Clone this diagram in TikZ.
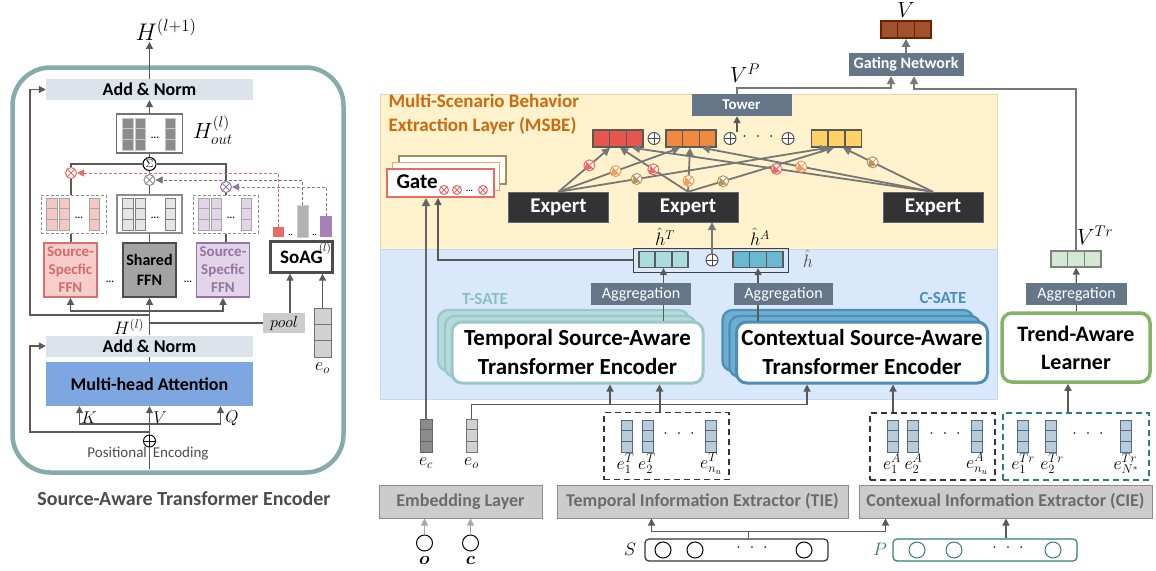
\RequirePackage{fix-cm}
\documentclass[tikz,border=0pt]{standalone}
\usepackage{fontspec}
\usepackage{amsmath}
\setmainfont{Carlito}
\usetikzlibrary{arrows.meta,calc,positioning}

% colours
\definecolor{frameteal}{HTML}{86ABAB}
\definecolor{linegray}{HTML}{595959}
\definecolor{darrow}{HTML}{777777}
\definecolor{normfill}{HTML}{DCE3EA}
\definecolor{attnblue}{HTML}{7EA6E0}
\definecolor{redtxt}{HTML}{D46A6A}
\definecolor{redfill}{HTML}{F8CECC}
\definecolor{reddraw}{HTML}{D9706E}
\definecolor{pinkcell}{HTML}{F4C7C3}
\definecolor{purtxt}{HTML}{9673A6}
\definecolor{purfill}{HTML}{E1D5E7}
\definecolor{purbar}{HTML}{A680B8}
\definecolor{sharedfill}{HTML}{A3A3A3}
\definecolor{msbefill}{HTML}{FFF2CC}
\definecolor{msbedraw}{HTML}{E6D8AC}
\definecolor{msbetxt}{HTML}{CC6A10}
\definecolor{satefill}{HTML}{DAE8FC}
\definecolor{satedraw}{HTML}{C6D7EE}
\definecolor{slate}{HTML}{647687}
\definecolor{expfill}{HTML}{333333}
\definecolor{expdraw}{HTML}{56697F}
\definecolor{vred}{HTML}{E5574C}
\definecolor{vorange}{HTML}{EF8A3E}
\definecolor{vyellow}{HTML}{FFD166}
\definecolor{vbrown}{HTML}{A0522D}
\definecolor{vbrowndraw}{HTML}{6B2000}
\definecolor{vlteal}{HTML}{AADCDE}
\definecolor{vblue}{HTML}{69B9D2}
\definecolor{vgreen}{HTML}{D5E8D4}
\definecolor{evec}{HTML}{B9CAD9}
\definecolor{evecdraw}{HTML}{4B6B87}
\definecolor{tsateline}{HTML}{9CC6C7}
\definecolor{tsateback}{HTML}{B4DBDC}
\definecolor{tsatetxt}{HTML}{8DBFC0}
\definecolor{csateline}{HTML}{4E8DB5}
\definecolor{csateback}{HTML}{6DAFD2}
\definecolor{csatetxt}{HTML}{4A8FC2}
\definecolor{talgreen}{HTML}{82B366}
\definecolor{extfill}{HTML}{CCCCCC}
\definecolor{extdraw}{HTML}{8C8C8C}
\definecolor{exttxt}{HTML}{6B6B6B}
\definecolor{trdash}{HTML}{2F7D7B}
\definecolor{otred}{HTML}{EA6B66}
\definecolor{otorange}{HTML}{F49A5A}
\definecolor{ottan}{HTML}{B8955A}
\definecolor{gatetan}{HTML}{A88A55}
\definecolor{gateorange}{HTML}{F2A066}

\tikzset{
  blk/.style={rectangle, inner sep=0pt, align=center},
  ln/.style={draw=linegray, line width=1.2pt},
  arr/.style={ln, -{Triangle[length=7pt,width=7pt]}},
  garr/.style={draw=darrow, line width=1.8pt, -{Triangle[length=8pt,width=8pt]}},
  mathlbl/.style={inner sep=1pt, font=\fontsize{18}{19}\selectfont},
  normbox/.style={blk, fill=normfill, minimum width=207pt, minimum height=21pt, font=\fontsize{18}{20}\selectfont\bfseries},
  ffnbox/.style={blk, line width=1.6pt, minimum width=53pt, minimum height=54pt, font=\fontsize{15}{18}\selectfont\bfseries},
  vecframe/.style={blk, draw=black!45, line width=1pt, minimum width=65pt, minimum height=38pt},
  slatebox/.style={blk, fill=slate, text=white, minimum height=22pt, font=\fontsize{16}{17}\selectfont},
  expertbox/.style={blk, fill=expfill, draw=expdraw, text=white, minimum width=100pt, minimum height=30pt, font=\fontsize{21}{24}\selectfont\bfseries},
  satelayer/.style={blk, rounded corners=10pt, minimum width=251pt, minimum height=61pt, line width=2.2pt},
  extbox/.style={blk, fill=extfill, draw=extdraw, line width=1pt, minimum height=33pt, text=exttxt, font=\fontsize{18}{20}\selectfont\bfseries},
  ebox/.style={blk, dash pattern=on 6pt off 4pt, line width=1.8pt, minimum width=125pt, minimum height=67pt},
  seqbox/.style={blk, rounded corners=4pt, line width=1.2pt, minimum height=22pt},
  seqdot/.style={circle, draw=#1, line width=1pt, minimum size=16pt, inner sep=0pt},
  oplus/.style={circle, draw=#1, fill=white, inner sep=0pt, minimum size=12pt, line width=0.9pt,
    path picture={\draw[#1, line width=0.9pt] (path picture bounding box.north) -- (path picture bounding box.south)
      (path picture bounding box.west) -- (path picture bounding box.east);}},
  otimes/.style={circle, draw=#1, fill=white, inner sep=0pt, minimum size=11pt, line width=1pt,
    path picture={\draw[#1, line width=0.9pt] (path picture bounding box.north west) -- (path picture bounding box.south east)
      (path picture bounding box.north east) -- (path picture bounding box.south west);}},
  % vector cells
  houtcells/.style={fill=black!45, draw=black!22, line width=0.8pt},
  pinkcells/.style={fill=pinkcell, draw=black!35, line width=0.8pt},
  greycells/.style={fill=black!10, draw=black!50, line width=0.8pt},
  purcells/.style={fill=purfill, draw=black!35, line width=0.8pt},
  eocells/.style={fill=black!18, draw=black!55, line width=1pt},
  eccells/.style={fill=black!45, draw=black!60, line width=1pt},
  ecells/.style={fill=evec, draw=evecdraw, line width=1pt},
  redvcells/.style={fill=vred, draw=black!65, line width=1.5pt},
  orgvcells/.style={fill=vorange, draw=black!65, line width=1.5pt},
  yelvcells/.style={fill=vyellow, draw=black!65, line width=1.5pt},
  browncells/.style={fill=vbrown, draw=vbrowndraw, line width=1.5pt},
  htcells/.style={fill=vlteal, draw=black!65, line width=1.3pt},
  hacells/.style={fill=vblue, draw=black!65, line width=1.3pt},
  greencells/.style={fill=vgreen, draw=black!50, line width=1.3pt},
}

% a row of three cells: name, centre, width, height, style
\newcommand{\cellrow}[5]{%
  \node[blk, minimum width=#3, minimum height=#4, #5] (#1) at (#2) {};
  \foreach \k in {1,2}
    \draw[#5] ($(#1.north west)!\k/3!(#1.north east)$) -- ($(#1.south west)!\k/3!(#1.south east)$);
}
% a column of three cells: name, centre, width, height, style
\newcommand{\cellcol}[5]{%
  \node[blk, minimum width=#3, minimum height=#4, #5] (#1) at (#2) {};
  \foreach \k in {1,2}
    \draw[#5] ($(#1.north west)!\k/3!(#1.south west)$) -- ($(#1.north east)!\k/3!(#1.south east)$);
}
% two columns, dots, one column: prefix, centre x, centre y, style
\newcommand{\vecgroup}[4]{%
  \cellcol{#1a}{#2-21.5,#3}{10.5pt}{32pt}{#4}
  \cellcol{#1b}{#2-9,#3}{10.5pt}{32pt}{#4}
  \cellcol{#1c}{#2+21,#3}{10.5pt}{32pt}{#4}
  \node[font=\fontsize{10}{10}\selectfont\bfseries, inner sep=0pt] (#1dots) at (#2+5.5,#3+4) {...};
}

\begin{document}
\begin{tikzpicture}[x=1pt, y=-1pt]
  \useasboundingbox (0,0) rectangle (1156,570);

  % --- Source-Aware Transformer Encoder ---
  \node[blk, draw=frameteal, line width=4.5pt, rounded corners=38pt, minimum width=331pt, minimum height=405pt] (encframe) at (178,270) {};
  \node[normbox] (normtop) at (149.5,89.5) {Add \& Norm};
  \node[mathlbl, font=\fontsize{24}{25}\selectfont] (hnext) at (166,30) {$H^{(l+1)}$};
  \draw[arr] (normtop) -- (normtop |- hnext.south);

  % output block and the weighted sum
  \node[blk, draw=black!55, line width=1.2pt, minimum width=66pt, minimum height=39pt] (hout) at (149.5,133.5) {};
  \vecgroup{ho}{149.5}{134}{houtcells}
  \node[mathlbl, anchor=west, font=\fontsize{22}{23}\selectfont] (houtlab) at (192,130) {$H^{(l)}_{out}$};
  \draw[arr] (hout) -- (normtop);
  \node[circle, draw=black, line width=1pt, inner sep=0pt, minimum size=13pt, font=\fontsize{11}{11}\selectfont] (sum) at (149.5,164) {$\Sigma$};
  \draw[ln] (sum) -- (hout);

  \node[otimes=otred] (gr) at (71,173) {};
  \node[otimes=black!45] (gg) at (149.5,180) {};
  \node[otimes=purtxt] (gp) at (226,187) {};
  \draw[ln] (gr.north) |- (sum.west);
  \draw[ln] (gp.north) |- (sum.east);
  \draw[ln] (gg) -- (sum);

  \node[vecframe, dash pattern=on 3pt off 2pt] (fr) at (73.5,214) {};
  \node[vecframe, line width=1.4pt] (fs) at (149.5,214) {};
  \node[vecframe, dash pattern=on 3pt off 2pt] (fp) at (225.5,214) {};
  \vecgroup{fr}{73.5}{214}{pinkcells}
  \vecgroup{fs}{149.5}{214}{greycells}
  \vecgroup{fp}{225.5}{214}{purcells}
  \draw[ln] (gr.south) -- (gr.south |- fr.north);
  \draw[ln] (gg) -- (fs);
  \draw[ln] (gp.south) -- (gp.south |- fp.north);

  % feed-forward experts
  \node[ffnbox, fill=redfill, draw=reddraw, text=redtxt] (ffnr) at (70.5,270) {Source-\\Specfic\\FFN};
  \node[ffnbox, fill=sharedfill, draw=black!70, font=\fontsize{16}{20}\selectfont\bfseries] (ffns) at (149.5,270) {Shared\\FFN};
  \node[ffnbox, fill=purfill, draw=purtxt, text=purtxt] (ffnp) at (223,270) {Source-\\Specfic\\FFN};
  \node[font=\fontsize{10}{10}\selectfont\bfseries] (fd1) at (110,282) {...};
  \node[font=\fontsize{10}{10}\selectfont\bfseries] (fd2) at (188,282) {...};
  \draw[ln] (fr.south -| gr) -- (ffnr.north -| gr);
  \draw[ln] (fs) -- (ffns);
  \draw[ln] (fp.south -| gp) -- (ffnp.north -| gp);

  % source-aware gate
  \node[blk, draw=black!70, fill=white, line width=2.4pt, minimum width=62pt, minimum height=31pt, font=\fontsize{19}{20}\selectfont\bfseries] (soag) at (301.5,257) {SoAG};
  \node[anchor=north east, inner sep=0pt, font=\fontsize{11}{11}\selectfont] (soagl) at ([xshift=-2.5pt,yshift=-2.5pt]soag.north east) {$(l)$};
  \node[blk, fill=otred, minimum width=11pt, minimum height=10pt] (barr) at (278.5,232) {};
  \node[blk, fill=black!30, draw=black!20, minimum width=11pt, minimum height=32pt] (barg) at (302.5,221) {};
  \node[blk, fill=purbar, minimum width=12pt, minimum height=21pt] (barp) at (326,226.5) {};
  \node[font=\fontsize{8}{8}\selectfont\bfseries, inner sep=0pt] (bd1) at (290.5,235) {..};
  \node[font=\fontsize{8}{8}\selectfont\bfseries, inner sep=0pt] (bd2) at (314.5,235) {..};
  \draw[draw=otred, line width=1pt, dash pattern=on 3pt off 2pt, -{Triangle[length=7pt,width=7pt]}] (barr) |- (gr);
  \draw[draw=black!55, line width=1pt, dash pattern=on 3pt off 2pt, -{Triangle[length=7pt,width=7pt]}] (barg) |- (gg);
  \draw[draw=purtxt, line width=1pt, dash pattern=on 3pt off 2pt, -{Triangle[length=7pt,width=7pt]}] (barp) |- (gp);

  \node[blk, fill=extfill, minimum width=42pt, minimum height=20pt, font=\fontsize{16}{18}\selectfont] (pool) at (284,323) {$pool$};
  \cellcol{eoenc}{322.5,332.5}{17pt}{49pt}{eocells}
  \node[mathlbl, below=4pt of eoenc] (eoenclab) {$e_o$};
  \draw[arr] ([xshift=6pt]pool.north) -- ([xshift=6pt]pool.north |- soag.south);
  \draw[arr] (eoenc) -- (eoenc |- soag.south);

  % attention block
  \node[normbox] (normbot) at (149.5,346) {Add \& Norm};
  \node[blk, fill=attnblue, minimum width=207pt, minimum height=44pt, font=\fontsize{18}{20}\selectfont\bfseries] (mha) at (149.5,384) {Multi-head Attention};
  \draw[ln] (mha) -- (normbot);
  \draw[arr] (normbot) -- (ffns);
  \coordinate (hsplit) at (149.5,311);
  \draw[arr] (hsplit) -| (ffnr);
  \draw[arr] (hsplit) -| (ffnp);
  \coordinate (hpool) at (149.5,323);
  \draw[ln] (hpool) -- (pool);
  \node[mathlbl] (hl) at (129,327) {$H^{(l)}$};

  % residual paths
  \coordinate (skiptop) at (149.5,315);
  \draw[arr] (skiptop) -- ++(-119.5,0) |- (normtop);
  \coordinate (skipbot) at (149.5,432);
  \draw[arr] (skipbot) -- ++(-119.5,0) |- (normbot);

  % K, V, Q inputs
  \node[oplus=black] (pe) at (149.5,441) {};
  \draw[arr] (pe) -- (mha);
  \coordinate (kvq) at (149.5,424);
  \draw[arr] (kvq) -| ([xshift=-70pt]mha.south);
  \draw[arr] (kvq) -| ([xshift=71pt]mha.south);
  \node[mathlbl, font=\fontsize{17}{18}\selectfont] (klab) at (89,418) {$K$};
  \node[mathlbl, font=\fontsize{17}{18}\selectfont] (vlabl) at (160,418) {$V$};
  \node[mathlbl, font=\fontsize{17}{18}\selectfont] (qlab) at (232,418) {$Q$};
  \coordinate (pein) at (149.5,469);
  \draw[ln] (pein) -- (pe);
  \node[text=black!70, font=\fontsize{15}{17}\selectfont] (petxt) at (148,454) {Positional\hspace{6pt}Encoding};
  \node[text=black!70, font=\fontsize{20}{22}\selectfont\bfseries] (enctitle) at (184,499) {Source-Aware Transformer Encoder};

  % --- Multi-Scenario Behavior Extraction ---
  \node[blk, fill=msbefill, draw=msbedraw, minimum width=617pt, minimum height=155pt] (msbe) at (688.5,171.5) {};
  \node[blk, fill=satefill, draw=satedraw, minimum width=617pt, minimum height=150pt] (satebg) at (688.5,324) {};
  \node[anchor=north west, align=left, text=msbetxt, font=\fontsize{19}{24}\selectfont\bfseries] (msbetitle) at (385,91) {Multi-Scenario Behavior\\Extraction Layer (MSBE)};

  % gates
  \node[blk, draw=gatetan, fill=white, line width=1.6pt, minimum width=107pt, minimum height=28pt] (gateb) at (452.5,170) {};
  \node[blk, draw=gateorange, fill=white, line width=1.6pt, minimum width=107pt, minimum height=28pt] (gatem) at (446,176.5) {};
  \node[blk, draw=otred, fill=white, line width=2pt, minimum width=107pt, minimum height=28pt] (gate) at (440,183) {};
  \node[anchor=west, font=\fontsize{21}{22}\selectfont\bfseries] (gatetxt) at (393,182) {Gate};
  \node[otimes=otred, minimum size=9pt] (gm1) at (444,190) {};
  \node[otimes=otred, minimum size=9pt] (gm2) at (457,190) {};
  \node[font=\fontsize{9}{9}\selectfont\bfseries, inner sep=0pt] (gmdots) at (469.5,191) {...};
  \node[otimes=otred, minimum size=9pt] (gm3) at (483,190) {};

  % experts and scenario outputs
  \node[expertbox] (exp1) at (558.5,207) {Expert};
  \node[expertbox] (exp2) at (688,207) {Expert};
  \node[expertbox] (exp3) at (933,207) {Expert};
  \cellrow{vred}{618,138.5}{50pt}{17pt}{redvcells}
  \node[oplus=black!70] (op1) at (654,138.5) {};
  \cellrow{vorg}{691,138.5}{50pt}{17pt}{orgvcells}
  \node[oplus=black!70] (op2) at (730,138.5) {};
  \node[font=\fontsize{16}{16}\selectfont] (opdots) at (758,137) {$\cdot$\hspace{9pt}$\cdot$\hspace{9pt}$\cdot$};
  \node[oplus=black!70] (op3) at (788,138.5) {};
  \cellrow{vyel}{836.5,138.5}{50pt}{17pt}{yelvcells}

  \foreach \src/\dst/\dx/\t/\col in {exp1/vred/-8/0.6/otred, exp1/vorg/-11/0.47/otorange, exp1/vyel/-8.5/0.29/ottan,
      exp2/vred/2/0.51/otred, exp2/vorg/-1/0.25/otorange, exp2/vyel/-2.5/0.24/ottan,
      exp3/vred/14/0.52/otred, exp3/vorg/11/0.57/otorange, exp3/vyel/6.5/0.67/ottan}
    \draw[garr] (\src.north) -- ([xshift=\dx]\dst.south) node[otimes=\col, pos=\t] (m\src\dst) {};

  % tower and gating network
  \node[slatebox, minimum width=100pt, font=\fontsize{15}{16}\selectfont\bfseries] (tower) at (741.5,105) {Tower};
  \coordinate (towerin) at ([xshift=-4.5pt]tower.south);
  \draw[arr] (op2.north -| towerin) -- (towerin);
  \node[mathlbl, font=\fontsize{22}{23}\selectfont] (vplab) at (745,73) {$V^P$};
  \node[slatebox, minimum width=115pt, minimum height=23pt, font=\fontsize{16}{17}\selectfont\bfseries] (gnet) at (906,64.5) {Gating Network};
  \coordinate (gin1) at ([xshift=-15pt]gnet.south);
  \coordinate (gin2) at ([xshift=8pt]gnet.south);
  \cellrow{vout}{906,29.5}{50pt}{17pt}{browncells}
  \node[mathlbl, font=\fontsize{22}{23}\selectfont] (vlab) at (906,10) {$V$};
  \draw[garr] (gnet) -- (vout);
  \draw[garr] (tower.north -| towerin) -- ++(0,-6) -| (gin1);

  % --- Source-aware encoders ---
  \node[blk, draw=black!75, line width=1pt, minimum width=155pt, minimum height=24pt] (hhat) at (710.5,260) {};
  \cellrow{vht}{663.5,259.5}{49pt}{16pt}{htcells}
  \node[oplus=black!70] (oph) at (712,260) {};
  \cellrow{vha}{758,259.5}{50pt}{16pt}{hacells}
  \node[mathlbl] (htlab) at (665,237) {$\hat{h}^T$};
  \node[mathlbl] (halab) at (760,237) {$\hat{h}^A$};
  \node[mathlbl, text=black!70] (hhlab) at (808,259) {$\hat{h}$};
  \draw[garr] (oph) -- (oph |- exp2.south);
  \coordinate (gatein1) at ([xshift=-14pt]gate.south);
  \coordinate (gatein2) at ([xshift=-2pt]gate.south);
  \draw[arr] (hhat.west) -| (gatein2);

  \node[slatebox, minimum width=100pt] (aggt) at (641,294) {Aggregation};
  \node[slatebox, minimum width=99pt] (agga) at (783.5,294) {Aggregation};
  \draw[arr] (aggt.north -| vht) -- (vht);
  \draw[arr] (agga.north -| vha) -- (vha);

  \node[satelayer, fill=tsateback, draw=tsateline] (tsate2) at (563.5,340.5) {};
  \node[satelayer, fill=tsateback, draw=tsateline] (tsate1) at (570.5,346.5) {};
  \node[satelayer, fill=white, draw=tsateline, line width=3pt, font=\fontsize{23}{29}\selectfont\bfseries] (tsate) at (577.5,352.5) {Temporal Source-Aware\\Transformer Encoder};
  \node[satelayer, fill=csateback, draw=csateline] (csate2) at (848,340.5) {};
  \node[satelayer, fill=csateback, draw=csateline] (csate1) at (855,346.5) {};
  \node[satelayer, fill=white, draw=csateline, line width=3pt, font=\fontsize{23}{29}\selectfont\bfseries] (csate) at (862,352.5) {Contextual Source-Aware\\Transformer Encoder};
  \node[text=tsatetxt, font=\fontsize{17}{18}\selectfont\bfseries] (tsatelab) at (485,299) {T-SATE};
  \node[text=csatetxt, font=\fontsize{17}{18}\selectfont\bfseries] (csatelab) at (943,298) {C-SATE};
  \draw[ln] (tsate.north -| vht) -- (aggt.south -| vht);
  \draw[ln] (csate.north -| vha) -- (agga.south -| vha);

  % --- Trend-aware branch ---
  \node[blk, fill=white, draw=talgreen, line width=3.5pt, rounded corners=10pt, minimum width=148pt, minimum height=69pt, font=\fontsize{22}{28}\selectfont\bfseries] (tal) at (1076,347.5) {Trend-Aware\\Learner};
  \node[slatebox, minimum width=101pt] (aggtr) at (1076.5,294) {Aggregation};
  \cellrow{vtr}{1076,259}{50pt}{16pt}{greencells}
  \node[mathlbl, anchor=west, font=\fontsize{22}{23}\selectfont] (vtrlab) at (1076,235) {$V^{Tr}$};
  \draw[ln] (tal) -- (aggtr);
  \draw[arr] (aggtr) -- (vtr);
  \draw[garr] (vtr.north) |- ([yshift=-13pt]gin2) -- (gin2);

  % --- Embeddings ---
  \cellcol{ec}{426,435.5}{12pt}{33pt}{eccells}
  \cellcol{eo}{471.5,435.5}{11pt}{33pt}{eocells}
  \node[mathlbl, below=4pt of ec] (eclab) {$e_c$};
  \node[mathlbl, below=4pt of eo] (eolab) {$e_o$};
  \draw[garr, draw=black!60] (ec) -- (gatein1);

  \coordinate (tsin) at ([xshift=32.5pt]tsate.south);
  \coordinate (tsin2) at ([xshift=82pt]tsate.south);
  \coordinate (csin) at ([xshift=-55pt]csate.south);
  \coordinate (csin2) at ([xshift=31pt]csate.south);
  \coordinate (talin) at ([xshift=-8pt]tal.south);
  \draw[arr] (eo) |- ([yshift=-20pt]csin) -- (csin);
  \draw[arr] ([yshift=-20pt]tsin) -- (tsin);

  % temporal sequence embeddings
  \node[ebox, draw=black!80] (etbox) at (666.5,446) {};
  \cellcol{et1}{626.5,436}{11pt}{32pt}{ecells}
  \cellcol{et2}{647.5,436}{11pt}{32pt}{ecells}
  \cellcol{etn}{710.5,436}{11pt}{32pt}{ecells}
  \node[font=\fontsize{16}{16}\selectfont] (etdots) at (679,434) {$\cdot$\hspace{9pt}$\cdot$\hspace{9pt}$\cdot$};
  \node[mathlbl] (et1lab) at (625.5,464) {$e^T_1$};
  \node[mathlbl] (et2lab) at (647,464) {$e^T_2$};
  \node[mathlbl] (etnlab) at (711,464) {$e^T_{n_u}$};
  \draw[arr, line width=2pt] (etbox.north -| tsin2) -- (tsin2);

  % contextual embeddings
  \node[ebox, draw=black!80] (eabox) at (932.5,446.5) {};
  \cellcol{ea1}{892.5,436}{11pt}{32pt}{ecells}
  \cellcol{ea2}{913,436}{11pt}{32pt}{ecells}
  \cellcol{ean}{976.5,436}{11pt}{32pt}{ecells}
  \node[font=\fontsize{16}{16}\selectfont] (eadots) at (945,434) {$\cdot$\hspace{9pt}$\cdot$\hspace{9pt}$\cdot$};
  \node[mathlbl] (ea1lab) at (892,464) {$e^A_1$};
  \node[mathlbl] (ea2lab) at (913.5,464) {$e^A_2$};
  \node[mathlbl] (eanlab) at (977,464) {$e^A_{n_u}$};
  \draw[arr] (eabox.north -| csin2) -- (csin2);

  % trend embeddings
  \node[ebox, draw=trdash, minimum width=146pt] (etrbox) at (1076,446.5) {};
  \cellcol{etr1}{1023,436}{11pt}{32pt}{ecells}
  \cellcol{etr2}{1050.5,436}{11pt}{32pt}{ecells}
  \cellcol{etrn}{1125.5,436}{11pt}{32pt}{ecells}
  \node[font=\fontsize{16}{16}\selectfont] (etrdots) at (1088,434) {$\cdot$\hspace{9pt}$\cdot$\hspace{9pt}$\cdot$};
  \node[mathlbl] (etr1lab) at (1023,464) {$e^{Tr}_1$};
  \node[mathlbl] (etr2lab) at (1052,464) {$e^{Tr}_2$};
  \node[mathlbl] (etrnlab) at (1126,464) {$e^{Tr}_{N^*}$};
  \draw[arr] (etrbox.north -| talin) -- (talin);

  % --- Extractors and raw inputs ---
  \node[extbox, minimum width=163pt] (emb) at (460.5,501.5) {Embedding Layer};
  \node[extbox, minimum width=291pt] (tie) at (702.5,501.5) {Temporal Information Extractor (TIE)};
  \node[extbox, minimum width=293pt] (cie) at (1005.5,501.5) {Contexual Information Extractor (CIE)};

  \node[seqdot=black] (cio) at (424.5,543) {};
  \node[seqdot=black] (cic) at (470.5,543) {};
  \node[mathlbl] (olab) at (424.5,560) {$\boldsymbol{o}$};
  \node[mathlbl] (clab) at (470.5,560) {$\boldsymbol{c}$};
  \draw[arr, draw=black!35] (cio) -- (cio |- emb.south);
  \draw[arr, draw=black!35] (cic) -- (cic |- emb.south);

  \node[seqbox, draw=black!80, minimum width=183pt] (sseq) at (736.5,550) {};
  \node[seqdot=black] (s1) at (663,550) {};
  \node[seqdot=black] (s2) at (695,550) {};
  \node[seqdot=black] (sn) at (804,550) {};
  \node[font=\fontsize{16}{16}\selectfont] (sdots) at (752,548) {$\cdot$\hspace{9pt}$\cdot$\hspace{9pt}$\cdot$};
  \node[mathlbl] (slab) at (630,549) {$S$};
  \coordinate (sjoin) at ([xshift=12pt,yshift=7pt]sseq.north);
  \draw[ln] (sjoin) -- (sjoin |- sseq.north);
  \draw[arr] (sjoin) -| ([xshift=-51pt]tie.south);
  \draw[arr] (sjoin) -| ([xshift=-120pt]cie.south);

  \node[seqbox, draw=trdash, minimum width=184pt] (pseq) at (985,550) {};
  \node[seqdot=trdash] (p1) at (917,550) {};
  \node[seqdot=trdash] (p2) at (954,550) {};
  \node[seqdot=trdash] (pn) at (1053,550) {};
  \node[font=\fontsize{16}{16}\selectfont] (pdots) at (1008,548) {$\cdot$\hspace{9pt}$\cdot$\hspace{9pt}$\cdot$};
  \node[mathlbl, text=trdash] (plab) at (880,549) {$P$};
  \draw[arr] ([xshift=21pt]pseq.north) -- ([xshift=21pt]pseq.north |- cie.south);

\end{tikzpicture}
\end{document}
